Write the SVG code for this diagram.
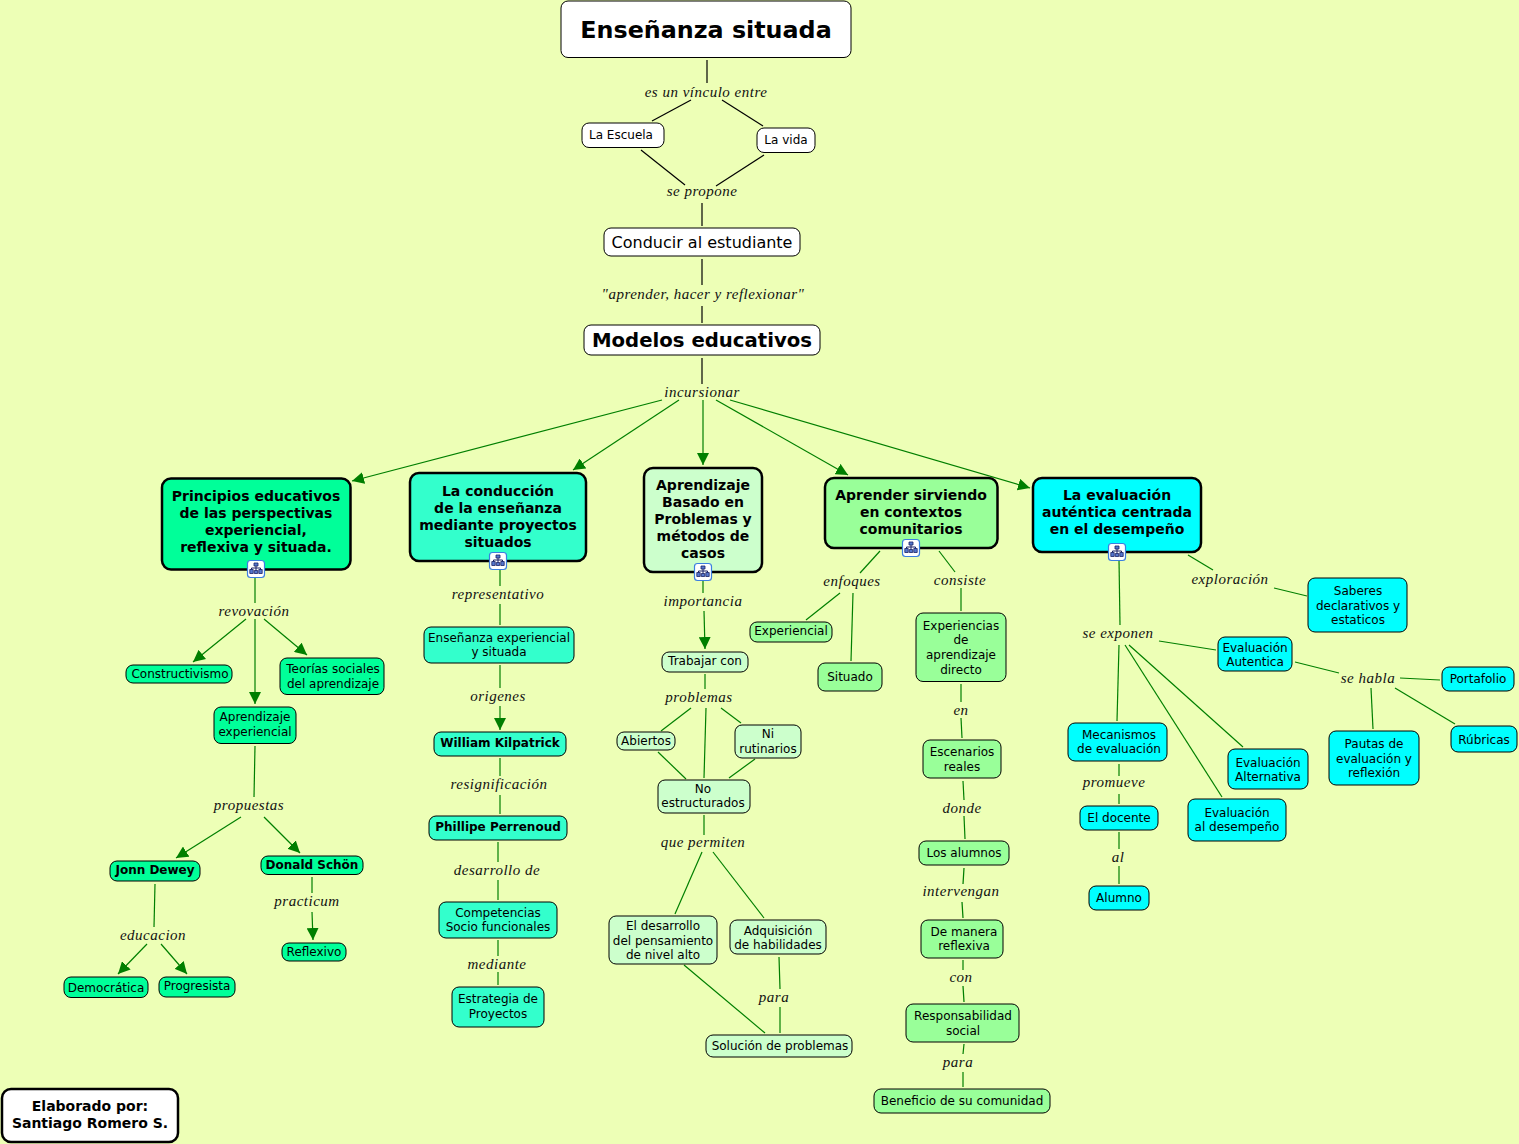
<svg xmlns="http://www.w3.org/2000/svg" width="1519" height="1144" viewBox="0 0 1519 1144">
<defs>
<marker id="a" markerUnits="userSpaceOnUse" markerWidth="14" markerHeight="12" refX="12" refY="6" orient="auto"><path d="M0 0L12 6L0 12Z" fill="#007F00"/></marker>
<g id="ic"><rect x="-8.500" y="-8.500" width="17" height="17" rx="3" fill="#fff" stroke="#3B7FE0" stroke-width="1.200"/><path d="M-2 -6h4v3h-4zM-6.200 .5h3.400v4h-3.400zM2.800 .5h3.400v4h-3.400zM-1.700 1.500h3.400v3h-3.400z" fill="#5577CC" stroke="#1A2266" stroke-width=".8"/><path d="M0 -3V1.500M-4.500 .5V-1H4.500V.5" fill="none" stroke="#1A2266" stroke-width="1"/></g>
</defs>
<style>
text{font-family:"DejaVu Sans",Verdana,sans-serif;font-size:12px;text-anchor:middle;fill:#000}
.b{font-weight:bold}
.h{font-size:14px}
.l{font-family:"Liberation Serif","Times New Roman",serif;font-style:italic;font-size:15px;letter-spacing:.5px;fill:#111}
rect.n{stroke:#000;stroke-width:1;rx:7px}
rect.t{stroke:#000;stroke-width:2.500;rx:9px}
.w{fill:#fff}.g1{fill:#00FF99}.g2{fill:#33FFCC}.g3{fill:#CCFFCC}.g4{fill:#99FF99}.g5{fill:#00FFFF}
#connectors line{stroke:#007F00;stroke-width:1.200}
#connectors line.k{stroke:#000}
#connectors line.m{marker-end:url(#a)}
</style>
<rect width="1519" height="1144" fill="#EDFFB6"/>
<g id="connectors">
<line class="k" x1="707" y1="60" x2="707" y2="83"/><line class="k" x1="691" y1="100" x2="652" y2="121"/><line class="k" x1="722" y1="100" x2="763" y2="126"/>
<line class="k" x1="641" y1="150" x2="685" y2="185"/><line class="k" x1="764" y1="155" x2="716" y2="186"/><line class="k" x1="702" y1="203" x2="702" y2="226"/>
<line class="k" x1="702" y1="259" x2="702" y2="285"/><line class="k" x1="702" y1="306" x2="702" y2="323"/><line class="k" x1="702" y1="358" x2="702" y2="384"/>
<line class="m" x1="662" y1="400" x2="352" y2="481"/><line class="m" x1="679" y1="400" x2="573" y2="470"/><line class="m" x1="703" y1="400" x2="703" y2="465"/><line class="m" x1="716" y1="400" x2="848" y2="475"/><line class="m" x1="730" y1="400" x2="1030" y2="488"/>
<line x1="255" y1="578" x2="255" y2="603"/><line class="m" x1="246" y1="619" x2="193" y2="662"/><line class="m" x1="255" y1="619" x2="255" y2="704"/><line class="m" x1="264" y1="619" x2="307" y2="655"/>
<line x1="255" y1="746" x2="254" y2="797"/><line class="m" x1="241" y1="817" x2="176" y2="858"/><line class="m" x1="264" y1="817" x2="300" y2="853"/>
<line x1="155" y1="884" x2="154" y2="927"/><line class="m" x1="147" y1="944" x2="118" y2="974"/><line class="m" x1="161" y1="944" x2="187" y2="974"/>
<line x1="312" y1="877" x2="312" y2="893"/><line class="m" x1="312" y1="912" x2="313" y2="940"/>
<line x1="500" y1="570" x2="500" y2="586"/><line x1="500" y1="604" x2="500" y2="625"/><line x1="500" y1="665" x2="500" y2="688"/><line class="m" x1="500" y1="706" x2="500" y2="730"/>
<line x1="500" y1="758" x2="500" y2="776"/><line x1="500" y1="795" x2="500" y2="814"/><line x1="498" y1="842" x2="498" y2="862"/><line x1="498" y1="880" x2="498" y2="900"/><line x1="498" y1="940" x2="498" y2="956"/><line x1="498" y1="972" x2="498" y2="985"/>
<line x1="703" y1="580" x2="703" y2="593"/><line class="m" x1="704" y1="611" x2="705" y2="649"/><line x1="705" y1="674" x2="705" y2="689"/>
<line x1="691" y1="708" x2="661" y2="731"/><line x1="706" y1="708" x2="704" y2="778"/><line x1="721" y1="708" x2="741" y2="723"/><line x1="658" y1="752" x2="686" y2="779"/><line x1="755" y1="759" x2="729" y2="778"/>
<line x1="704" y1="815" x2="704" y2="835"/><line x1="702" y1="852" x2="675" y2="914"/><line x1="713" y1="852" x2="764" y2="918"/>
<line x1="779" y1="957" x2="780" y2="989"/><line x1="780" y1="1007" x2="780" y2="1033"/><line x1="684" y1="965" x2="765" y2="1033"/>
<line x1="880" y1="551" x2="860" y2="573"/><line x1="939" y1="551" x2="955" y2="572"/><line x1="840" y1="593" x2="806" y2="620"/><line x1="853" y1="593" x2="851" y2="661"/>
<line x1="961" y1="588" x2="961" y2="611"/><line x1="961" y1="684" x2="961" y2="702"/><line x1="961" y1="718" x2="962" y2="738"/><line x1="963" y1="781" x2="964" y2="800"/><line x1="964" y1="816" x2="965" y2="839"/>
<line x1="964" y1="868" x2="963" y2="884"/><line x1="962" y1="902" x2="963" y2="918"/><line x1="963" y1="960" x2="963" y2="970"/><line x1="963" y1="986" x2="964" y2="1002"/><line x1="964" y1="1044" x2="963" y2="1054"/><line x1="963" y1="1072" x2="963" y2="1087"/>
<line x1="1188" y1="555" x2="1213" y2="570"/><line x1="1274" y1="588" x2="1307" y2="596"/><line x1="1119" y1="560" x2="1120" y2="625"/><line x1="1159" y1="641" x2="1216" y2="650"/>
<line x1="1119" y1="645" x2="1117" y2="721"/><line x1="1125" y1="645" x2="1222" y2="797"/><line x1="1129" y1="645" x2="1243" y2="747"/>
<line x1="1295" y1="662" x2="1339" y2="673"/><line x1="1400" y1="678" x2="1440" y2="680"/><line x1="1371" y1="688" x2="1373" y2="729"/><line x1="1395" y1="688" x2="1455" y2="724"/>
<line x1="1119" y1="764" x2="1119" y2="776"/><line x1="1119" y1="794" x2="1119" y2="804"/><line x1="1119" y1="832" x2="1119" y2="849"/><line x1="1119" y1="866" x2="1119" y2="884"/>
</g>
<g id="n1"><rect class="n w" x="561" y="1" width="290" height="56.500"/><text class="b" x="706" y="38" style="font-size:23.800px">Enseñanza situada</text></g>
<g id="n2"><rect class="n w" x="582" y="123" width="82" height="24.500"/><text x="621" y="139">La Escuela</text></g>
<g id="n3"><rect class="n w" x="757" y="128" width="58" height="24.500"/><text x="786" y="144">La vida</text></g>
<g id="n4"><rect class="n w" x="604" y="228" width="196" height="28"/><text x="702" y="248" style="font-size:16px">Conducir al estudiante</text></g>
<g id="n5"><rect class="n w" x="584" y="325" width="236" height="30"/><text class="b" x="702" y="347" style="font-size:19.700px">Modelos educativos</text></g>
<g id="n6"><rect class="t g1" x="162" y="478.500" width="188.500" height="91"/><text class="b h"><tspan x="256" y="501">Principios educativos</tspan><tspan x="256" y="518">de las perspectivas</tspan><tspan x="256" y="535">experiencial,</tspan><tspan x="256" y="552">reflexiva y situada.</tspan></text><use href="#ic" x="256" y="569"/></g>
<g id="n7"><rect class="t g2" x="410" y="473" width="176" height="88"/><text class="b h"><tspan x="498" y="496">La conducción</tspan><tspan x="498" y="513">de la enseñanza</tspan><tspan x="498" y="530">mediante proyectos</tspan><tspan x="498" y="547">situados</tspan></text><use href="#ic" x="498" y="561"/></g>
<g id="n8"><rect class="t g3" x="644" y="468" width="118" height="104"/><text class="b h"><tspan x="703" y="490">Aprendizaje</tspan><tspan x="703" y="507">Basado en</tspan><tspan x="703" y="524">Problemas y</tspan><tspan x="703" y="541">métodos de</tspan><tspan x="703" y="558">casos</tspan></text><use href="#ic" x="703" y="572"/></g>
<g id="n9"><rect class="t g4" x="825" y="478" width="172.500" height="70"/><text class="b h"><tspan x="911" y="500">Aprender sirviendo</tspan><tspan x="911" y="517">en contextos</tspan><tspan x="911" y="534">comunitarios</tspan></text><use href="#ic" x="911" y="548"/></g>
<g id="n10"><rect class="t g5" x="1033" y="478" width="168" height="74"/><text class="b h"><tspan x="1117" y="500">La evaluación</tspan><tspan x="1117" y="517">auténtica centrada</tspan><tspan x="1117" y="534">en el desempeño</tspan></text><use href="#ic" x="1117" y="552"/></g>
<g id="n11"><rect class="n g1" x="126" y="665" width="106" height="18"/><text x="180" y="678">Constructivismo</text></g>
<g id="n12"><rect class="n g1" x="280" y="658" width="104" height="36.500"/><text><tspan x="333" y="673">Teorías sociales</tspan><tspan x="333" y="688">del aprendizaje</tspan></text></g>
<g id="n13"><rect class="n g1" x="214" y="707" width="82" height="36.500"/><text><tspan x="255" y="721">Aprendizaje</tspan><tspan x="255" y="736">experiencial</tspan></text></g>
<g id="n14"><rect class="n g1" x="110" y="861" width="90" height="20"/><text class="b" x="155" y="874">Jonn Dewey</text></g>
<g id="n15"><rect class="n g1" x="261" y="856" width="102" height="18.500"/><text class="b" x="312" y="869">Donald Schön</text></g>
<g id="n16"><rect class="n g1" x="64" y="977" width="84" height="20.500"/><text x="106" y="992">Democrática</text></g>
<g id="n17"><rect class="n g1" x="159" y="977" width="76" height="20"/><text x="197" y="990">Progresista</text></g>
<g id="n18"><rect class="n g1" x="282" y="943" width="64" height="18"/><text x="314" y="956">Reflexivo</text></g>
<g id="n19"><rect class="n g2" x="424" y="627" width="150" height="36"/><text><tspan x="499" y="642">Enseñanza experiencial</tspan><tspan x="499" y="656">y situada</tspan></text></g>
<g id="n20"><rect class="n g2" x="434" y="732" width="132" height="24"/><text class="b" x="500" y="747">William Kilpatrick</text></g>
<g id="n21"><rect class="n g2" x="429" y="816" width="138" height="24"/><text class="b" x="498" y="831">Phillipe Perrenoud</text></g>
<g id="n22"><rect class="n g2" x="439" y="902" width="118" height="36"/><text><tspan x="498" y="917">Competencias</tspan><tspan x="498" y="931">Socio funcionales</tspan></text></g>
<g id="n23"><rect class="n g2" x="452" y="987" width="92" height="40"/><text><tspan x="498" y="1003">Estrategia de</tspan><tspan x="498" y="1018">Proyectos</tspan></text></g>
<g id="n24"><rect class="n g3" x="662" y="652" width="86" height="20"/><text x="705" y="665">Trabajar con</text></g>
<g id="n25"><rect class="n g3" x="617" y="732" width="58" height="18"/><text x="646" y="745">Abiertos</text></g>
<g id="n26"><rect class="n g3" x="735" y="725" width="66" height="33"/><text><tspan x="768" y="738">Ni</tspan><tspan x="768" y="753">rutinarios</tspan></text></g>
<g id="n27"><rect class="n g3" x="658" y="780" width="92" height="33"/><text><tspan x="703" y="793">No</tspan><tspan x="703" y="807">estructurados</tspan></text></g>
<g id="n28"><rect class="n g3" x="609" y="916" width="108" height="48"/><text><tspan x="663" y="930">El desarrollo</tspan><tspan x="663" y="945">del pensamiento</tspan><tspan x="663" y="959">de nivel alto</tspan></text></g>
<g id="n29"><rect class="n g3" x="730" y="920" width="96" height="34"/><text><tspan x="778" y="935">Adquisición</tspan><tspan x="778" y="949">de habilidades</tspan></text></g>
<g id="n30"><rect class="n g3" x="706" y="1035" width="146" height="22"/><text x="780" y="1050">Solución de problemas</text></g>
<g id="n31"><rect class="n g4" x="750" y="622" width="82" height="20"/><text x="791" y="635">Experiencial</text></g>
<g id="n32"><rect class="n g4" x="818" y="663" width="64" height="28"/><text x="850" y="681">Situado</text></g>
<g id="n33"><rect class="n g4" x="916" y="613" width="90" height="68.500"/><text><tspan x="961" y="630">Experiencias</tspan><tspan x="961" y="644">de</tspan><tspan x="961" y="659">aprendizaje</tspan><tspan x="961" y="674">directo</tspan></text></g>
<g id="n34"><rect class="n g4" x="923" y="740" width="78" height="38"/><text><tspan x="962" y="756">Escenarios</tspan><tspan x="962" y="771">reales</tspan></text></g>
<g id="n35"><rect class="n g4" x="919" y="841" width="90" height="24"/><text x="964" y="857">Los alumnos</text></g>
<g id="n36"><rect class="n g4" x="921" y="920" width="82" height="38"/><text><tspan x="964" y="936">De manera</tspan><tspan x="964" y="950">reflexiva</tspan></text></g>
<g id="n37"><rect class="n g4" x="906" y="1004" width="113" height="38"/><text><tspan x="963" y="1020">Responsabilidad</tspan><tspan x="963" y="1035">social</tspan></text></g>
<g id="n38"><rect class="n g4" x="874" y="1089" width="176" height="24"/><text x="962" y="1105">Beneficio de su comunidad</text></g>
<g id="n39"><rect class="n g5" x="1308" y="578" width="99" height="54"/><text><tspan x="1358" y="595">Saberes</tspan><tspan x="1358" y="610">declarativos y</tspan><tspan x="1358" y="624">estaticos</tspan></text></g>
<g id="n40"><rect class="n g5" x="1218" y="637" width="74" height="34"/><text><tspan x="1255" y="652">Evaluación</tspan><tspan x="1255" y="666">Autentica</tspan></text></g>
<g id="n41"><rect class="n g5" x="1442" y="667" width="72" height="24"/><text x="1478" y="683">Portafolio</text></g>
<g id="n42"><rect class="n g5" x="1451" y="726" width="66" height="26"/><text x="1484" y="744">Rúbricas</text></g>
<g id="n43"><rect class="n g5" x="1329" y="731" width="90" height="54"/><text><tspan x="1374" y="748">Pautas de</tspan><tspan x="1374" y="763">evaluación y</tspan><tspan x="1374" y="777">reflexión</tspan></text></g>
<g id="n44"><rect class="n g5" x="1068" y="723" width="99" height="38"/><text><tspan x="1119" y="739">Mecanismos</tspan><tspan x="1119" y="753">de evaluación</tspan></text></g>
<g id="n45"><rect class="n g5" x="1228" y="749" width="80" height="40"/><text><tspan x="1268" y="767">Evaluación</tspan><tspan x="1268" y="781">Alternativa</tspan></text></g>
<g id="n46"><rect class="n g5" x="1188" y="799" width="98" height="42"/><text><tspan x="1237" y="817">Evaluación</tspan><tspan x="1237" y="831">al desempeño</tspan></text></g>
<g id="n47"><rect class="n g5" x="1080" y="806" width="78" height="24"/><text x="1119" y="822">El docente</text></g>
<g id="n48"><rect class="n g5" x="1089" y="886" width="60" height="24"/><text x="1119" y="902">Alumno</text></g>
<g id="n49"><rect class="t w" x="2" y="1089" width="176" height="53"/><text class="b h"><tspan x="90" y="1111">Elaborado por:</tspan><tspan x="90" y="1128">Santiago Romero S.</tspan></text></g>
<g id="labels">
<text class="l" x="706" y="97">es un vínculo entre</text><text class="l" x="702" y="196">se propone</text><text class="l" x="703" y="299">"aprender, hacer y reflexionar"</text><text class="l" x="702" y="397">incursionar</text>
<text class="l" x="254" y="616">revovación</text><text class="l" x="249" y="810">propuestas</text><text class="l" x="153" y="940">educacion</text><text class="l" x="307" y="906">practicum</text>
<text class="l" x="498" y="599">representativo</text><text class="l" x="498" y="701">origenes</text><text class="l" x="499" y="789">resignificación</text><text class="l" x="497" y="875">desarrollo de</text><text class="l" x="497" y="969">mediante</text>
<text class="l" x="703" y="606">importancia</text><text class="l" x="699" y="702">problemas</text><text class="l" x="703" y="847">que permiten</text><text class="l" x="774" y="1002">para</text>
<text class="l" x="852" y="586">enfoques</text><text class="l" x="960" y="585">consiste</text><text class="l" x="961" y="715">en</text><text class="l" x="962" y="813">donde</text><text class="l" x="961" y="896">intervengan</text><text class="l" x="961" y="982">con</text><text class="l" x="958" y="1067">para</text>
<text class="l" x="1230" y="584">exploración</text><text class="l" x="1118" y="638">se exponen</text><text class="l" x="1368" y="683">se habla</text><text class="l" x="1114" y="787">promueve</text><text class="l" x="1118" y="862">al</text>
</g>
</svg>
